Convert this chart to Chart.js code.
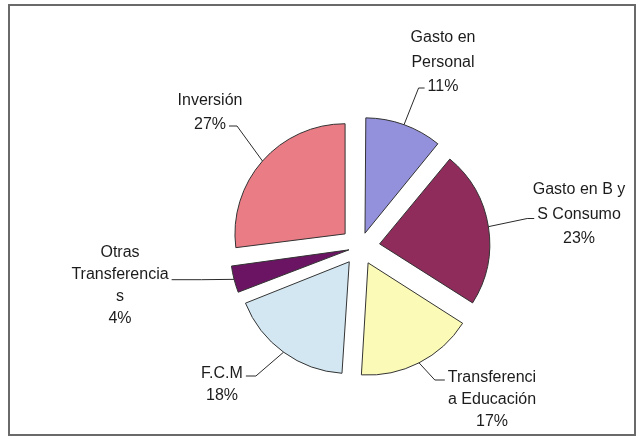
<!DOCTYPE html>
<html>
<head>
<meta charset="utf-8">
<script src="https://cdn.jsdelivr.net/npm/chart.js@4.4.1/dist/chart.umd.min.js"></script>
<style>
  html, body { margin: 0; padding: 0; background: #fff; }
  #wrap { position: relative; width: 638px; height: 437px; }
  #frame { position: absolute; left: 8px; top: 4px; width: 624px; height: 428px; border: 2px solid #6a6a6a; box-sizing: content-box; }
  canvas { position: absolute; left: 0; top: 0; }
</style>
</head>
<body>
<div id="wrap">
  <div id="frame"></div>
  <canvas id="pieChart" width="638" height="437"></canvas>
</div>
<script>
// categories as Excel wrapped them
const categories = [
    ['Gasto en', 'Personal'],
    ['Gasto en B y', 'S Consumo'],
    ['Transferenci', 'a Educación'],
    ['F.C.M'],
    ['Otras', 'Transferencia', 's'],
    ['Inversión']
];
const shares = [11, 23, 17, 18, 4, 27];
const sliceColors = ['#9491dc', '#8f2c5b', '#fbfab6', '#d2e7f2', '#6b1463', '#ea7c86'];

// where each callout text sits, relative to the pie centre
const labelLayout = [
    { dx: 83,   dy: -209, lh: 24.5, attach: 2, side: 'left',  stub: 6,  ay: 1 },
    { dx: 219,  dy: -57,  lh: 24.5, attach: 1, side: 'left',  stub: 7,  ay: 4 },
    { dx: 132,  dy: 131,  lh: 22,   attach: 0, side: 'left',  stub: 10, ay: 2 },
    { dx: -138, dy: 127,  lh: 22,   attach: 0, side: 'right', stub: 10, ay: 2 },
    { dx: -240, dy: 6,    lh: 21.7, attach: 1, side: 'right', stub: 30, ay: 5 },
    { dx: -150, dy: -146, lh: 24,   attach: 1, side: 'right', stub: 8,  ay: 1 }
];

const total = shares.reduce((a, b) => a + b, 0);
const EXPLODE = 20;

// chart.js shifts an arc by offset/4 * (2 - sin(circ)); undo that so every slice moves the same
function sliceOffset(c) {
    const circ = c.dataset.data[c.dataIndex] / total * 2 * Math.PI;
    return EXPLODE * 4 / (2 - Math.sin(Math.min(Math.PI, circ)));
}

const calloutLabels = {
    id: 'calloutLabels',
    afterDatasetsDraw(chart) {
        const ctx = chart.ctx;
        const meta = chart.getDatasetMeta(0);
        const cx = (chart.chartArea.left + chart.chartArea.right) / 2;
        const cy = (chart.chartArea.top + chart.chartArea.bottom) / 2;
        ctx.save();
        ctx.font = '16px "Liberation Sans", Arial, sans-serif';
        ctx.textAlign = 'center';
        ctx.textBaseline = 'middle';
        meta.data.forEach((arc, i) => {
            const p = arc.getProps(['x', 'y', 'startAngle', 'endAngle', 'outerRadius', 'circumference']);
            const half = (p.startAngle + p.endAngle) / 2;
            const shift = arc.options.offset / 4 * (2 - Math.sin(Math.min(Math.PI, p.circumference)));
            const ex = p.x + Math.cos(half) * (shift + p.outerRadius);
            const ey = p.y + Math.sin(half) * (shift + p.outerRadius);

            const L = labelLayout[i];
            const lines = categories[i].concat([Math.round(shares[i] / total * 100) + '%']);
            const tx = cx + L.dx;
            ctx.fillStyle = '#1c1c1c';
            lines.forEach((t, k) => ctx.fillText(t, tx, cy + L.dy + k * L.lh));

            const w = ctx.measureText(lines[L.attach]).width;
            const ay = cy + L.dy + L.attach * L.lh + L.ay;
            const ax = L.side === 'left' ? tx - w / 2 - 3 : tx + w / 2 + 3;
            const bx = L.side === 'left' ? ax - L.stub : ax + L.stub;
            ctx.strokeStyle = '#2a2a2a';
            ctx.lineWidth = 1;
            ctx.beginPath();
            ctx.moveTo(ax, ay);
            ctx.lineTo(bx, ay);
            ctx.lineTo(ex, ey);
            ctx.stroke();
        });
        ctx.restore();
    }
};

new Chart(document.getElementById('pieChart'), {
    type: 'pie',
    data: {
        labels: categories,
        datasets: [{
            data: shares,
            backgroundColor: sliceColors,
            borderColor: '#333',
            borderWidth: 1,
            offset: sliceOffset
        }]
    },
    options: {
        responsive: false,
        animation: false,
        radius: 110,
        layout: { padding: { left: 82, right: 0, top: 57, bottom: 0 } },
        plugins: {
            legend: { display: false },
            tooltip: { enabled: false }
        }
    },
    plugins: [calloutLabels]
});
</script>
</body>
</html>
